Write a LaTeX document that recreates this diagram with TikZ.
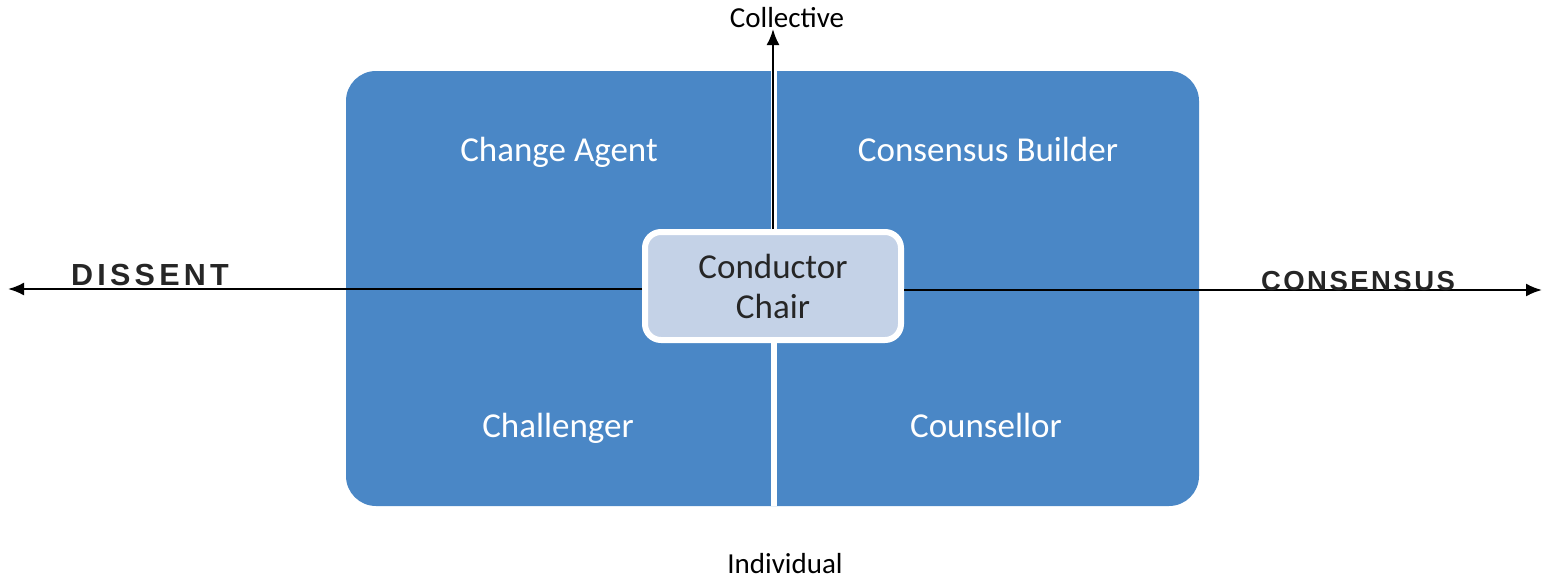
\documentclass[tikz,border=0pt]{standalone}
\usepackage{fontspec}
\setmainfont{Carlito}
\newfontfamily\handfont[LetterSpace=14]{Liberation Sans Bold}
\newfontfamily\handfontb[LetterSpace=9]{Liberation Sans Bold}
\usetikzlibrary{arrows.meta}
\definecolor{quadblue}{RGB}{74,135,198}
\definecolor{chairfill}{RGB}{196,210,231}
\tikzset{
  axis/.style={line width=2.2pt, black},
  axistip/.style={-{Latex[length=16pt,width=13pt]}},
  quadlabel/.style={text=white, font=\fontsize{35}{40}\selectfont, anchor=base, inner sep=0pt},
  axislabel/.style={text=black, font=\fontsize{29}{34}\selectfont, anchor=base, inner sep=0pt},
  handlabel/.style={text=black!85, anchor=base, inner sep=0pt},
  chairbox/.style={draw=white, line width=6pt, fill=chairfill, rounded corners=16pt,
    minimum width=256pt, minimum height=108pt, align=center,
    font=\fontsize{35}{40}\selectfont, text=black!85}
}
\begin{document}
\begin{tikzpicture}[x=1pt,y=-1pt]
\useasboundingbox (0,0) rectangle (1553,581);
% quadrant background
\fill[quadblue, rounded corners=30pt] (346,71) rectangle (1199,506);
\fill[white] (770.5,71) rectangle (776.5,506);
% labels of quadrants
\node[quadlabel] (ca) at (559,161) {Change Agent};
\node[quadlabel] (cb) at (988,161) {Consensus Builder};
\node[quadlabel] (ch) at (558,437) {Challenger};
\node[quadlabel] (co) at (986,437) {Counsellor};
% centre
\node[chairbox] (chair) at (773,286) {Conductor\\Chair};
% axis ends
\coordinate (ctop) at (773,29);
\coordinate (dl) at (8,289);
\coordinate (dr) at (1542,290);
\draw[axis, axistip] (chair.north) -- (ctop);
\draw[axis, axistip] (chair.west |- dl) -- (dl);
\draw[axis, axistip] (chair.east |- dr) -- (dr);
% axis labels
\node[axislabel] (collective) at (787,27) {Collective};
\node[axislabel] (individual) at (785,573) {Individual};
\node[handlabel, font=\handfont\fontsize{30.5}{34}\selectfont] (dissent) at (150,285) {DISSENT};
\node[handlabel, font=\handfontb\fontsize{27.5}{32}\selectfont] (consensus) at (1358,290) {CONSENSUS};
\end{tikzpicture}
\end{document}
